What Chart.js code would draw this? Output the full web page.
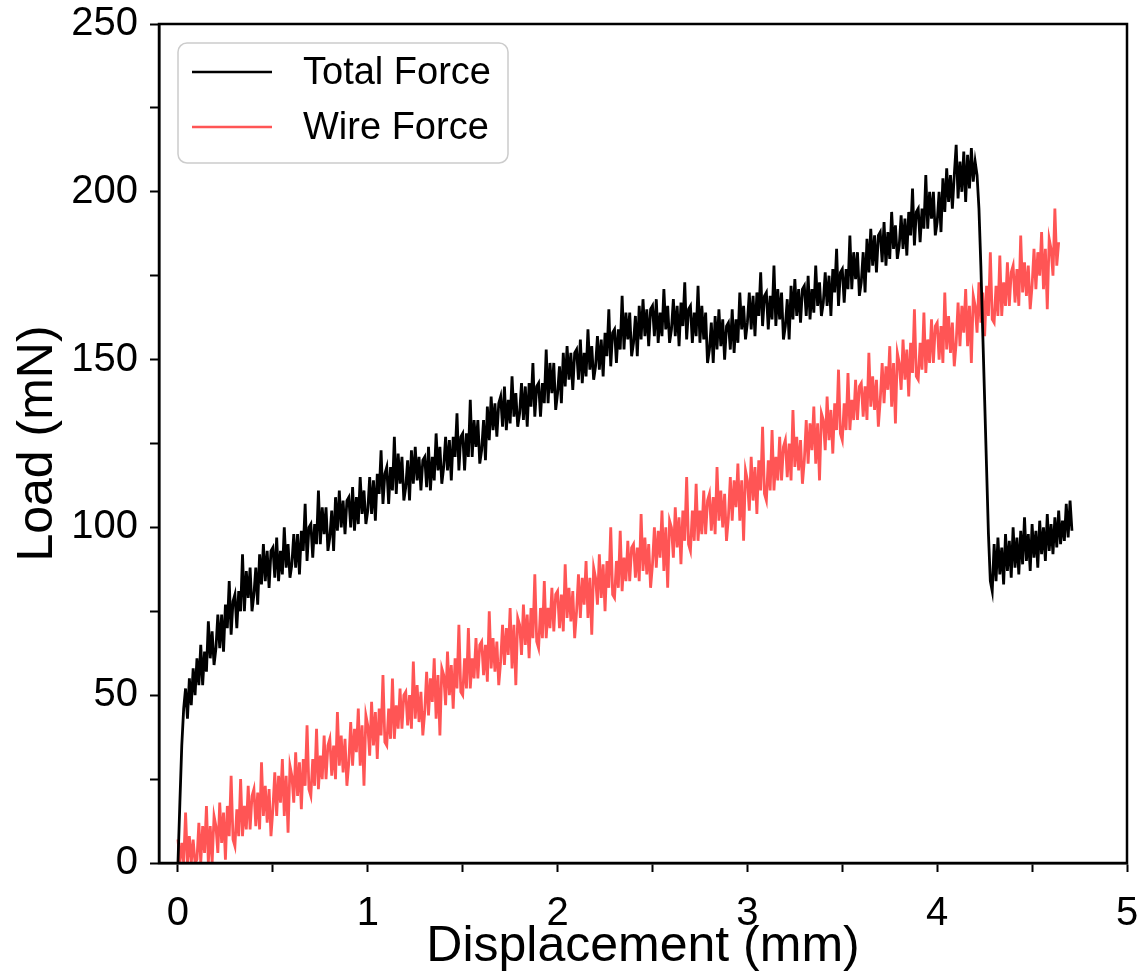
<!DOCTYPE html>
<html><head><meta charset="utf-8">
<script src="https://cdn.jsdelivr.net/npm/chart.js@4.4.1/dist/chart.umd.min.js"></script>
<style>html,body{margin:0;padding:0;background:#fff}#wrap{width:1145px;height:978px;position:relative}canvas{display:block}</style>
</head><body><div id="wrap"><canvas id="c" width="1145" height="978"></canvas></div>
<script>
// Displacement (mm) sample positions
const displacement = [
0,0.01,0.02,0.03,0.04,0.05,0.06,0.07,0.08,0.09,
0.1,0.11,0.12,0.13,0.14,0.15,0.16,0.17,0.18,0.19,
0.2,0.21,0.22,0.23,0.24,0.25,0.26,0.27,0.28,0.29,
0.3,0.31,0.32,0.33,0.34,0.35,0.36,0.37,0.38,0.39,
0.4,0.41,0.42,0.43,0.44,0.45,0.46,0.47,0.48,0.49,
0.5,0.51,0.52,0.53,0.54,0.55,0.56,0.57,0.58,0.59,
0.6,0.61,0.62,0.63,0.64,0.65,0.66,0.67,0.68,0.69,
0.7,0.71,0.72,0.73,0.74,0.75,0.76,0.77,0.78,0.79,
0.8,0.81,0.82,0.83,0.84,0.85,0.86,0.87,0.88,0.89,
0.9,0.91,0.92,0.93,0.94,0.95,0.96,0.97,0.98,0.99,
1.0,1.01,1.02,1.03,1.04,1.05,1.06,1.07,1.08,1.09,
1.1,1.11,1.12,1.13,1.14,1.15,1.16,1.17,1.18,1.19,
1.2,1.21,1.22,1.23,1.24,1.25,1.26,1.27,1.28,1.29,
1.3,1.31,1.32,1.33,1.34,1.35,1.36,1.37,1.38,1.39,
1.4,1.41,1.42,1.43,1.44,1.45,1.46,1.47,1.48,1.49,
1.5,1.51,1.52,1.53,1.54,1.55,1.56,1.57,1.58,1.59,
1.6,1.61,1.62,1.63,1.64,1.65,1.66,1.67,1.68,1.69,
1.7,1.71,1.72,1.73,1.74,1.75,1.76,1.77,1.78,1.79,
1.8,1.81,1.82,1.83,1.84,1.85,1.86,1.87,1.88,1.89,
1.9,1.91,1.92,1.93,1.94,1.95,1.96,1.97,1.98,1.99,
2.0,2.01,2.02,2.03,2.04,2.05,2.06,2.07,2.08,2.09,
2.1,2.11,2.12,2.13,2.14,2.15,2.16,2.17,2.18,2.19,
2.2,2.21,2.22,2.23,2.24,2.25,2.26,2.27,2.28,2.29,
2.3,2.31,2.32,2.33,2.34,2.35,2.36,2.37,2.38,2.39,
2.4,2.41,2.42,2.43,2.44,2.45,2.46,2.47,2.48,2.49,
2.5,2.51,2.52,2.53,2.54,2.55,2.56,2.57,2.58,2.59,
2.6,2.61,2.62,2.63,2.64,2.65,2.66,2.67,2.68,2.69,
2.7,2.71,2.72,2.73,2.74,2.75,2.76,2.77,2.78,2.79,
2.8,2.81,2.82,2.83,2.84,2.85,2.86,2.87,2.88,2.89,
2.9,2.91,2.92,2.93,2.94,2.95,2.96,2.97,2.98,2.99,
3.0,3.01,3.02,3.03,3.04,3.05,3.06,3.07,3.08,3.09,
3.1,3.11,3.12,3.13,3.14,3.15,3.16,3.17,3.18,3.19,
3.2,3.21,3.22,3.23,3.24,3.25,3.26,3.27,3.28,3.29,
3.3,3.31,3.32,3.33,3.34,3.35,3.36,3.37,3.38,3.39,
3.4,3.41,3.42,3.43,3.44,3.45,3.46,3.47,3.48,3.49,
3.5,3.51,3.52,3.53,3.54,3.55,3.56,3.57,3.58,3.59,
3.6,3.61,3.62,3.63,3.64,3.65,3.66,3.67,3.68,3.69,
3.7,3.71,3.72,3.73,3.74,3.75,3.76,3.77,3.78,3.79,
3.8,3.81,3.82,3.83,3.84,3.85,3.86,3.87,3.88,3.89,
3.9,3.91,3.92,3.93,3.94,3.95,3.96,3.97,3.98,3.99,
4.0,4.01,4.02,4.03,4.04,4.05,4.06,4.07,4.08,4.09,
4.1,4.11,4.12,4.13,4.14,4.15,4.16,4.17,4.18,4.19,
4.2,4.21,4.22,4.23,4.24,4.25,4.26,4.27,4.28,4.29,
4.3,4.31,4.32,4.33,4.34,4.35,4.36,4.37,4.38,4.39,
4.4,4.41,4.42,4.43,4.44,4.45,4.46,4.47,4.48,4.49,
4.5,4.51,4.52,4.53,4.54,4.55,4.56,4.57,4.58,4.59,
4.6,4.61,4.62,4.63,4.64,4.65,4.66,4.67,4.68,4.69,
4.7,4.71];

// Total Force (mN), one value per displacement sample
const totalForce = [
0,18,35,46,52,43,55,47,58,50,
61,53,65,53,63,57,72,61,69,59,
64,74,64,74,63,77,70,84,68,78,
80,70,81,75,92,75,87,79,88,75,
80,88,77,92,83,95,84,93,82,93,
94,85,97,84,93,86,100,88,95,85,
89,98,88,98,86,99,93,107,90,100,
101,91,101,95,111,95,106,98,106,93,
97,105,93,109,99,111,100,108,98,108,
109,100,112,99,109,101,115,104,111,101,
105,115,104,114,102,116,110,123,107,116,
118,107,118,111,127,110,122,113,121,108,
112,120,108,123,113,124,114,121,111,120,
121,112,124,111,121,114,128,117,124,113,
118,127,117,126,114,127,121,134,117,127,
128,117,128,121,138,121,132,124,132,119,
123,132,120,136,126,139,129,137,127,137,
139,130,142,129,138,131,145,133,140,130,
134,143,132,142,130,143,136,149,133,142,
143,133,143,137,153,137,149,140,149,135,
140,148,137,152,142,154,144,152,141,152,
153,144,156,143,152,145,159,147,154,144,
148,157,147,156,145,158,151,165,148,158,
159,149,159,153,169,153,164,156,164,151,
155,163,151,166,156,168,157,165,154,165,
166,157,168,155,164,157,171,159,166,155,
159,168,157,166,154,167,160,173,156,165,
166,155,164,157,172,155,166,156,164,149,
153,161,149,163,153,165,154,162,150,160,
161,153,165,152,162,155,170,159,166,156,
161,170,159,169,157,170,163,176,160,169,
170,159,169,162,178,160,171,162,170,156,
160,168,156,172,162,174,163,171,161,171,
172,163,175,162,171,164,178,166,173,163,
167,176,166,175,163,177,170,183,166,176,
177,167,177,171,187,171,182,174,182,169,
173,182,170,186,176,189,178,187,176,187,
188,179,191,178,188,180,194,183,190,180,
184,193,183,192,181,194,187,201,184,194,
195,185,195,189,205,189,200,192,200,187,
191,200,188,204,194,207,197,205,195,205,
214,198,209,200,212,197,211,201,213,203,
209,205,195,178,158,138,118,98,84,81,
95,84,97,86,94,83,98,87,96,85,
100,88,97,86,99,89,103,90,98,87,
101,91,99,88,102,92,100,90,104,93,
101,92,103,94,105,95,102,96,107,97,
108,99];

// Wire Force (mN), one value per displacement sample (0 – 4.64 mm)
const wireForce = [
7,0,6,0,15,0,8,0,7,0,
1,12,0,11,3,17,0,11,0,14,
11,3,18,6,15,1,17,8,26,7,
5,16,8,25,8,17,10,23,10,20,
22,11,21,10,30,14,23,12,22,8,
16,27,14,26,18,31,14,26,9,29,
26,18,33,20,30,16,31,23,41,22,
20,31,23,40,22,32,25,38,25,35,
37,26,35,25,45,29,38,27,37,23,
30,42,29,40,33,46,29,41,23,44,
41,32,48,35,45,31,46,38,56,36,
35,46,37,55,37,47,40,52,40,50,
51,41,50,40,60,43,53,42,51,38,
45,57,44,55,48,61,43,56,38,58,
56,47,63,50,59,46,61,52,71,51,
50,61,52,70,52,61,55,67,55,65,
66,56,65,54,75,58,67,57,66,53,
60,71,59,70,62,76,58,71,53,73,
71,62,77,65,74,61,76,67,86,66,
64,76,67,84,67,76,70,82,69,80,
81,70,80,69,89,73,82,72,81,67,
75,86,73,85,77,90,73,85,68,88,
85,77,92,79,89,75,90,82,100,80,
79,90,82,99,81,91,84,96,84,94,
95,85,94,84,104,87,97,86,95,82,
89,100,88,99,91,105,87,100,82,102,
100,91,106,94,103,89,105,96,115,95,
93,105,96,113,96,105,98,111,98,108,
110,99,109,98,118,102,111,100,110,96,
103,115,102,114,106,119,102,114,96,117,
114,105,121,108,118,104,120,111,130,110,
108,120,111,129,111,121,114,127,114,124,
126,115,125,114,135,118,127,117,126,113,
120,132,119,131,123,136,119,131,114,134,
132,123,139,126,135,122,137,129,147,128,
126,137,129,146,129,138,132,144,132,142,
143,133,142,132,152,136,145,135,144,130,
138,149,137,148,141,154,136,149,131,152,
149,141,156,144,153,139,155,146,165,145,
144,155,147,164,146,156,149,162,149,160,
161,150,160,149,170,153,163,152,161,148,
155,167,154,166,158,171,154,166,149,169,
166,158,173,161,170,157,172,163,182,162,
161,172,163,181,163,173,166,179,166,176,
178,167,177,166,187,170,179,169,178,165,
172,183,171,182,175,188,171,183,165,186,
183,175,195,178,185];

const seriesLabels = ['Total Force', 'Wire Force'];
const seriesColors = ['#000000', '#ff5555'];
const xAxisTitle = 'Displacement (mm)';
const yAxisTitle = 'Load (mN)';
const xRange = [-0.1, 5];
const yRange = [0, 250];
const xLabelStep = 1, xTickStep = 0.5;
const yLabelStep = 50, yTickStep = 25;

const FONT = '"Liberation Sans", Arial, Helvetica, sans-serif';

function toPoints(xs, ys) { return ys.map((y, i) => ({ x: xs[i], y: y })); }

const framePlugin = {
  id: 'frame',
  afterDatasetsDraw(chart) {
    const { ctx, chartArea: a } = chart;
    ctx.save();
    ctx.strokeStyle = '#000';
    ctx.lineWidth = 2.5;
    ctx.strokeRect(a.left, a.top, a.right - a.left, a.bottom - a.top);
    ctx.restore();
  }
};

const legendPlugin = {
  id: 'boxLegend',
  afterDraw(chart) {
    const ctx = chart.ctx;
    const bx = 178, by = 43, bw = 330, bh = 120, r = 9;
    ctx.save();
    ctx.beginPath();
    ctx.moveTo(bx + r, by);
    ctx.lineTo(bx + bw - r, by);
    ctx.arcTo(bx + bw, by, bx + bw, by + r, r);
    ctx.lineTo(bx + bw, by + bh - r);
    ctx.arcTo(bx + bw, by + bh, bx + bw - r, by + bh, r);
    ctx.lineTo(bx + r, by + bh);
    ctx.arcTo(bx, by + bh, bx, by + bh - r, r);
    ctx.lineTo(bx, by + r);
    ctx.arcTo(bx, by, bx + r, by, r);
    ctx.closePath();
    ctx.fillStyle = 'rgba(255,255,255,0.85)';
    ctx.fill();
    ctx.strokeStyle = '#cccccc';
    ctx.lineWidth = 1.5;
    ctx.stroke();
    chart.data.datasets.forEach((ds, i) => {
      const cy = 72 + i * 55;
      ctx.beginPath();
      ctx.moveTo(192, cy);
      ctx.lineTo(272, cy);
      ctx.strokeStyle = ds.borderColor;
      ctx.lineWidth = 2.5;
      ctx.stroke();
      ctx.fillStyle = '#000';
      ctx.font = '38px ' + FONT;
      ctx.textBaseline = 'middle';
      ctx.textAlign = 'left';
      ctx.fillText(ds.label, 303, cy + 2);
    });
    ctx.restore();
  }
};

new Chart(document.getElementById('c'), {
  type: 'line',
  data: {
    datasets: [
      { label: seriesLabels[0], data: toPoints(displacement, totalForce), borderColor: seriesColors[0], borderWidth: 2.8, pointRadius: 0, tension: 0, fill: false },
      { label: seriesLabels[1], data: toPoints(displacement, wireForce), borderColor: seriesColors[1], borderWidth: 2.8, pointRadius: 0, tension: 0, fill: false }
    ]
  },
  options: {
    responsive: false,
    devicePixelRatio: 1,
    animation: false,
    layout: { padding: { top: 24, right: 18, left: 0, bottom: 0 } },
    plugins: { legend: { display: false }, tooltip: { enabled: false } },
    scales: {
      x: {
        type: 'linear',
        min: xRange[0], max: xRange[1],
        afterFit(s) { s.height = 115; s.paddingLeft = 0; s.paddingRight = 0; },
        grid: { display: true, drawOnChartArea: false, drawTicks: true, tickLength: 9, tickWidth: 2, tickColor: '#000' },
        border: { display: true, color: '#000', width: 2.5 },
        ticks: {
          stepSize: xTickStep, includeBounds: false, padding: 18, color: '#000', maxRotation: 0, autoSkip: false,
          font: { family: FONT, size: 40 },
          callback: v => (Math.abs(v / xLabelStep - Math.round(v / xLabelStep)) < 1e-6 ? String(Math.round(v)) : '')
        },
        title: { display: true, text: xAxisTitle, color: '#000', font: { family: FONT, size: 50, lineHeight: 1 }, padding: { top: 0, bottom: 6 } }
      },
      y: {
        type: 'linear',
        min: yRange[0], max: yRange[1],
        afterFit(s) { s.width = 159; s.paddingTop = 0; s.paddingBottom = 0; },
        grid: { display: true, drawOnChartArea: false, drawTicks: true, tickLength: 9, tickWidth: 2, tickColor: '#000' },
        border: { display: true, color: '#000', width: 2.5 },
        ticks: {
          stepSize: yTickStep, padding: 12, color: '#000', autoSkip: false,
          font: { family: FONT, size: 40 },
          callback: v => (v % yLabelStep === 0 ? String(v) : '')
        },
        title: { display: true, text: yAxisTitle, color: '#000', font: { family: FONT, size: 50, lineHeight: 1 }, padding: { top: 13, bottom: 0 } }
      }
    }
  },
  plugins: [framePlugin, legendPlugin]
});
</script>
</body></html>
